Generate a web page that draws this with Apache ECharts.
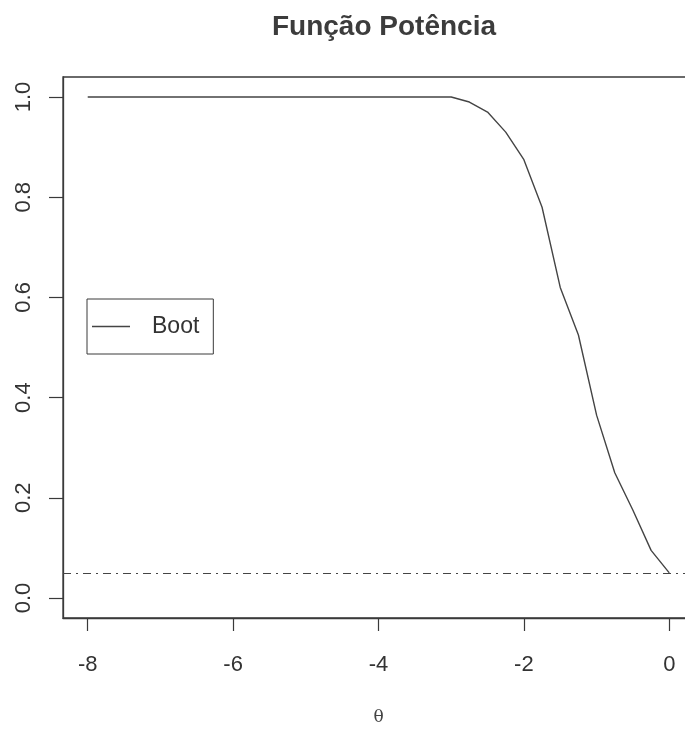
<!DOCTYPE html>
<html>
<head>
<meta charset="utf-8">
<script src="https://cdn.jsdelivr.net/npm/echarts@6/dist/echarts.min.js"></script>
<style>html,body{margin:0;padding:0;background:#fff;overflow:hidden;width:685px;height:731px;}#c{width:720px;height:731px;}</style>
</head>
<body>
<div id="c"></div>
<script>
const theta = [-8, -7, -6, -5, -4, -3.5, -3, -2.75, -2.5, -2.25, -2, -1.75, -1.5, -1.25, -1, -0.75, -0.5, -0.25, 0];
const power = [1, 1, 1, 1, 1, 1, 1, 0.99, 0.97, 0.93, 0.875, 0.78, 0.62, 0.525, 0.365, 0.25, 0.175, 0.095, 0.05];
const alphaLevel = 0.05;
const xTicks = [-8, -6, -4, -2, 0];
const yTicks = [0, 0.2, 0.4, 0.6, 0.8, 1.0];
const seriesName = 'Boot';
const titleText = 'Função Potência';
const xLabel = 'θ';

const ink = '#3a3a3a';
const chart = echarts.init(document.getElementById('c'));
chart.setOption({
  animation: false,
  backgroundColor: '#ffffff',
  title: {
    text: titleText, left: 379, top: 8, textAlign: 'center',
    textStyle: { fontFamily: 'Liberation Sans', fontWeight: 'bold', fontSize: 28, color: '#3c3c3c' }
  },
  legend: {
    data: [seriesName],
    left: 87, top: 299,
    orient: 'vertical',
    backgroundColor: '#fff',
    borderColor: ink, borderWidth: 1, borderRadius: 0,
    padding: [16, 14, 16, 5],
    icon: 'rect',
    itemWidth: 38, itemHeight: 1.4, itemGap: 0,
    itemStyle: { color: '#444' },
    textStyle: { fontFamily: 'Liberation Sans', fontSize: 23, color: '#333', padding: [0, 0, 0, 17], lineHeight: 23 }
  },
  grid: {
    left: 63, right: 26, top: 77, bottom: 113,
    show: true, borderColor: ink, borderWidth: 1.3, backgroundColor: 'transparent'
  },
  xAxis: {
    type: 'value', min: -8.34, max: 0.34,
    name: xLabel, nameLocation: 'middle', nameGap: 91,
    nameTextStyle: { fontFamily: 'DejaVu Serif', fontSize: 17, color: '#444' },
    axisLine: { show: true, onZero: false, lineStyle: { color: ink, width: 1.3 } },
    axisTick: { show: true, customValues: xTicks, length: 13, inside: false, lineStyle: { color: ink, width: 1.2 } },
    axisLabel: {
      customValues: xTicks, margin: 36,
      fontFamily: 'Liberation Sans', fontSize: 22, color: '#333',
      formatter: v => String(v)
    },
    splitLine: { show: false }
  },
  yAxis: {
    type: 'value', min: -0.04, max: 1.04,
    axisLine: { show: true, onZero: false, lineStyle: { color: ink, width: 1.3 } },
    axisTick: { show: true, customValues: yTicks, length: 14, inside: false, lineStyle: { color: ink, width: 1.2 } },
    axisLabel: {
      customValues: yTicks, margin: 28, rotate: 90,
      fontFamily: 'Liberation Sans', fontSize: 22, color: '#333',
      formatter: v => v.toFixed(1)
    },
    splitLine: { show: false }
  },
  series: [{
    name: seriesName,
    type: 'line',
    data: theta.map((t, i) => [t, power[i]]),
    symbol: 'none', showSymbol: false,
    lineStyle: { color: '#444', width: 1.4 },
    itemStyle: { color: '#444' },
    markLine: {
      silent: true, symbol: 'none',
      label: { show: false },
      lineStyle: { color: '#444', width: 1.2, type: [8, 5, 2, 5] },
      data: [{ yAxis: alphaLevel }]
    }
  }]
});
</script>
</body>
</html>
